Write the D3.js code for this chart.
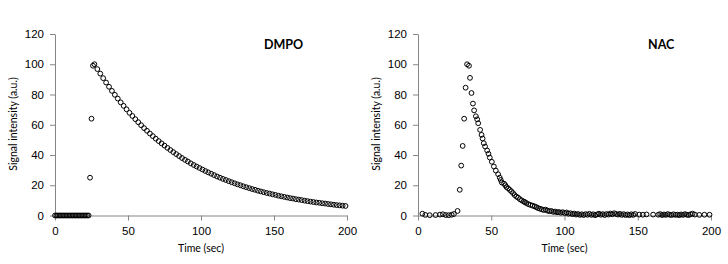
<!DOCTYPE html>
<html>
<head>
<meta charset="utf-8">
<script src="https://cdn.jsdelivr.net/npm/d3@7"></script>
<style>
  body { margin: 0; background: #fff; }
  svg { display: block; font-family: Lato, "Open Sans", sans-serif; }
</style>
</head>
<body>
<svg id="chart" width="728" height="264"></svg>
<script>
// DMPO time points (sec) and signal (a.u.)
const dmpoTime = [0, 1, 2, 3, 4, 5, 6, 7, 8, 9, 10, 11, 12, 13, 14, 15, 16, 17, 18, 19, 20, 21, 22, 23,
  24, 25, 26, 27, 29, 31, 33, 35, 37, 39, 41, 43, 45, 47, 49, 51, 53, 55, 57, 59, 61, 63, 65, 67, 69,
  71, 73, 75, 77, 79, 81, 83, 85, 87, 89, 91, 93, 95, 97, 99, 101, 103, 105, 107, 109, 111, 113, 115,
  117, 119, 121, 123, 125, 127, 129, 131, 133, 135, 137, 139, 141, 143, 145, 147, 149, 151, 153, 155,
  157, 159, 161, 163, 165, 167, 169, 171, 173, 175, 177, 179, 181, 183, 185, 187, 189, 191, 193, 195,
  197, 199];
const dmpoSignal = [0, 0, 0, 0, 0, 0, 0, 0, 0, 0, 0, 0, 0, 0, 0, 0, 0, 0, 0, 0, 0, 0, 0, 0,
  25, 64, 99, 100, 96.8, 93.8, 90.8, 87.9, 85.1, 82.4, 79.8, 77.3, 74.8, 72.5, 70.2, 67.9, 65.8, 63.7,
  61.7, 59.7, 57.8, 56.0, 54.2, 52.5, 50.8, 49.2, 47.7, 46.2, 44.7, 43.3, 41.9, 40.6, 39.3, 38.0, 36.8,
  35.7, 34.5, 33.4, 32.4, 31.4, 30.4, 29.4, 28.5, 27.6, 26.7, 25.8, 25.0, 24.2, 23.5, 22.7, 22.0, 21.3,
  20.6, 20.0, 19.3, 18.7, 18.1, 17.5, 17.0, 16.4, 15.9, 15.4, 14.9, 14.5, 14.0, 13.6, 13.1, 12.7, 12.3,
  11.9, 11.5, 11.2, 10.8, 10.5, 10.2, 9.8, 9.5, 9.2, 8.9, 8.6, 8.4, 8.1, 7.9, 7.6, 7.4, 7.1, 6.9, 6.7,
  6.5, 6.3];

// NAC time points (sec) and signal (a.u.)
const nacTime = [3, 5, 8, 12, 15, 17, 19, 21, 23, 24.5, 27, 28.5, 29.5, 30.5, 31.5, 32.5, 33.5, 34.8,
  35.5, 36.5, 37.5, 38.3, 39.5, 40.4, 41.1, 42.4, 43.4, 44.1, 44.9, 45.8, 47.2, 48.1, 49, 50.4, 51.8,
  53.1, 54.7, 55.8, 56.5, 57.2, 58.8, 59.6, 60.4, 61.5, 62.6, 63.7, 64.9, 66, 67.2, 68.3, 69.5, 70.8,
  72.2, 73, 74, 75.3, 76.7, 78.2, 79.7, 80.8, 81.9, 83.2, 84.5, 85.8, 87.1, 88.4, 89.7, 91, 92.3, 93.6,
  94.9, 96.2, 97.5, 98.8, 100.1, 101.4, 102.7, 104, 105.3, 106.6, 107.9, 109.2, 110.5, 111.8, 113.1,
  114.4, 115.7, 117, 118.3, 119.6, 120.9, 122.2, 123.5, 124.8, 126.1, 127.4, 128.7, 130, 131.3, 132.6,
  133.9, 135.2, 136.5, 137.8, 139.1, 140.4, 141.7, 143, 144.3, 145.6, 146.9, 148.2, 151, 153.5, 156,
  160.5, 164, 165.3, 166.6, 167.9, 169.2, 170.5, 171.8, 173.1, 174.4, 175.7, 177, 178.3, 179.6, 180.9,
  182.2, 183.5, 184.8, 186.1, 187.4, 189, 192, 195.5, 199];
const nacSignal = [1.2, 0.4, 0.2, 0.3, 0.6, 0.8, 0.3, 0.2, 0.5, 1.0, 3, 17, 33, 46, 64, 84.5, 100, 99,
  91, 81, 74, 69.5, 65.6, 63.6, 61, 56.6, 53.3, 50.9, 47.8, 45.6, 43, 40.8, 38.3, 35.5, 32.4,
  29.7, 27.3, 25, 23.5, 21.8, 21, 20, 18.8, 18, 17, 16, 14.8, 13.5, 12.5, 11.8, 10.8, 10,
  9.2, 8.8, 8.2, 7.5, 7, 6.5, 6, 5.5, 4.9, 4.5, 4.1, 3.6, 3.9, 3.2, 2.8, 3.0, 2.4, 2.6,
  2.1, 2.3, 1.8, 2.2, 1.6, 2.0, 1.2, 1.5, 0.9, 1.3, 0.6, 1.0, 0.4, 0.8, 0.3,
  0.9, 0.5, 1.1, 0.4, 0.8, 0.2, 0.7, 1.2, 0.5, 0.9, 0.3, 1.0, 0.6, 1.3, 0.8,
  1.5, 1.0, 0.6, 1.1, 0.4, 0.9, 0.3, 0.7, 0.2, 0.8, 0.4, 1.0, 0.6, 0.5, 0.7,
  0.6, 0.5, 0.9, 0.3, 0.7, 0.4, 0.9, 0.5, 0.3, 0.8, 0.4, 0.6, 0.2, 0.7, 0.4,
  0.9, 0.5, 0.3, 0.8, 1.2, 0.6, 0.4, 0.5, 0.5];

const xTicks = [0, 50, 100, 150, 200];
const yTicks = [0, 20, 40, 60, 80, 100, 120];

const panels = [
  { label: 'DMPO', time: dmpoTime, signal: dmpoSignal, left: 55, right: 347, labelX: 264 },
  { label: 'NAC', time: nacTime, signal: nacSignal, left: 418, right: 711, labelX: 648 }
];

const svg = d3.select('#chart');
const plotTop = 34, plotBottom = 215.5;

panels.forEach(p => {
  const x = d3.scaleLinear().domain([0, 200]).range([p.left, p.right]);
  const y = d3.scaleLinear().domain([0, 120]).range([plotBottom, plotTop]);

  const xAxis = svg.append('g')
    .attr('transform', `translate(0,${plotBottom})`)
    .call(d3.axisBottom(x).tickValues(xTicks).tickSize(5).tickPadding(6).tickSizeOuter(0));

  const yAxis = svg.append('g')
    .attr('transform', `translate(${p.left},0)`)
    .call(d3.axisLeft(y).tickValues(yTicks).tickSize(5).tickPadding(6).tickSizeOuter(0));

  [xAxis, yAxis].forEach(a => {
    a.selectAll('path, line').attr('stroke', '#868686');
    a.selectAll('text').attr('fill', '#000').style('font-size', '11.5px');
  });

  const pts = p.time.map((t, i) => ({ t, v: p.signal[i] }));
  svg.append('g').selectAll('circle')
    .data(pts)
    .enter().append('circle')
    .attr('cx', d => x(d.t))
    .attr('cy', d => y(d.v))
    .attr('r', 2.4)
    .attr('fill', 'none')
    .attr('stroke', '#000')
    .attr('stroke-width', 1);

  svg.append('text')
    .attr('x', (p.left + p.right) / 2)
    .attr('y', 252)
    .attr('text-anchor', 'middle')
    .style('font-size', '10.5px')
    .text('Time (sec)');

  svg.append('text')
    .attr('transform', `translate(${p.left - 38},124) rotate(-90)`)
    .attr('text-anchor', 'middle')
    .style('font-size', '10.5px')
    .text('Signal intensity (a.u.)');

  svg.append('text')
    .attr('x', p.labelX)
    .attr('y', 49)
    .style('font-size', '12.5px')
    .style('font-weight', 'bold')
    .text(p.label);
});
</script>
</body>
</html>
